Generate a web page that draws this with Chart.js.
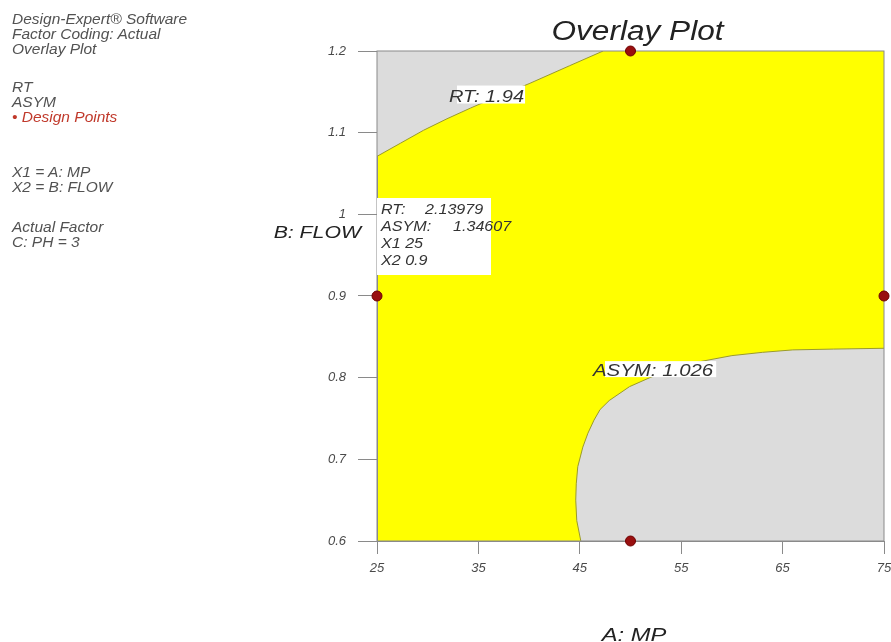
<!DOCTYPE html>
<html>
<head>
<meta charset="utf-8">
<script src="https://cdn.jsdelivr.net/npm/chart.js@4"></script>
<style>
  body { margin: 0; background: #fff; }
  #wrap { position: relative; width: 891px; height: 642px; overflow: hidden; }
  #chart { position: absolute; left: 0; top: 0; }
  .note { position: absolute; left: 12px; font: italic 15.5px "Liberation Sans", Arial, sans-serif;
          color: #525252; white-space: nowrap; line-height: 16px; }
  .red { color: #c0392b; }
</style>
</head>
<body>
<div id="wrap">
  <canvas id="chart" width="891" height="642"></canvas>
  <div class="note" style="top:11px">Design-Expert® Software</div>
  <div class="note" style="top:26px">Factor Coding: Actual</div>
  <div class="note" style="top:41px">Overlay Plot</div>
  <div class="note" style="top:79px">RT</div>
  <div class="note" style="top:94px">ASYM</div>
  <div class="note red" style="top:109px">&#8226; Design Points</div>
  <div class="note" style="top:164px">X1 = A: MP</div>
  <div class="note" style="top:179px">X2 = B: FLOW</div>
  <div class="note" style="top:219px">Actual Factor</div>
  <div class="note" style="top:234px">C: PH = 3</div>
</div>
<script>
// axis ticks
const mpTicks = [25, 35, 45, 55, 65, 75];
const flowTicks = [0.6, 0.7, 0.8, 0.9, 1, 1.1, 1.2];

// design points
const designMP = [50, 25, 75, 50];
const designFlow = [1.2, 0.9, 0.9, 0.6];

// RT = 1.94 contour (upper left)
const rtMP = [25, 27.3, 29.6, 31.9, 34.2, 37, 40, 44, 47.3];
const rtFlow = [1.071, 1.087, 1.103, 1.117, 1.130, 1.145, 1.160, 1.182, 1.2];

// ASYM = 1.026 contour (lower right)
const asymMP = [45.1, 44.7, 44.6, 44.65, 44.8, 45.3, 45.8, 46.4, 47.0, 47.9, 49.9, 51.9, 54, 57, 60, 63, 66, 70, 75];
const asymFlow = [0.6, 0.625, 0.65, 0.67, 0.691, 0.715, 0.732, 0.748, 0.761, 0.772, 0.789, 0.80, 0.81, 0.82, 0.827, 0.831, 0.834, 0.835, 0.836];

// contour labels and flag
const rtLabel = ['RT: 1.94', 32.1, 1.143];
const asymLabel = ['ASYM: 1.026', 46.3, 0.808];
const flagAt = [25, 1.02];
const flagNames = ['RT:', 'ASYM:', 'X1 25', 'X2 0.9'];
const flagValues = ['2.13979', '1.34607', '', ''];

const FONT = '"Liberation Sans", Arial, sans-serif';
const mpMin = mpTicks[0], mpMax = mpTicks[mpTicks.length - 1];
const flowMin = flowTicks[0], flowMax = flowTicks[flowTicks.length - 1];

function pts(xs, ys) {
  return xs.map((x, i) => ({ x: x, y: ys[i] }));
}

function stretchText(ctx, text, x, y, sx, align) {
  ctx.save();
  ctx.translate(x, y);
  ctx.scale(sx, 1);
  ctx.textAlign = align || 'left';
  ctx.fillText(text, 0, 0);
  ctx.restore();
}

const background = {
  id: 'background',
  beforeDraw(chart) {
    const a = chart.chartArea, ctx = chart.ctx;
    ctx.save();
    ctx.fillStyle = '#ffff00';
    ctx.fillRect(a.left, a.top, a.right - a.left, a.bottom - a.top);
    ctx.restore();
  }
};

const overlay = {
  id: 'overlay',
  afterDatasetDraw(chart, args) {
    if (args.index !== 3) return;
    const ctx = chart.ctx, a = chart.chartArea;
    const xs = chart.scales.x, ys = chart.scales.y;
    const mid = (a.left + a.right) / 2;
    ctx.save();

    // frame
    ctx.strokeStyle = '#8a8a8a';
    ctx.lineWidth = 1;
    ctx.strokeRect(a.left, a.top, a.right - a.left, a.bottom - a.top);

    ctx.textBaseline = 'middle';

    // RT label
    ctx.font = 'italic 17px ' + FONT;
    let x = xs.getPixelForValue(rtLabel[1]), y = ys.getPixelForValue(rtLabel[2]);
    let w = ctx.measureText(rtLabel[0]).width * 1.18;
    ctx.fillStyle = '#ffffff';
    ctx.fillRect(x + 8, y - 12, w - 7, 18);
    ctx.fillStyle = '#333';
    stretchText(ctx, rtLabel[0], x, y, 1.18);

    // ASYM label
    x = xs.getPixelForValue(asymLabel[1]); y = ys.getPixelForValue(asymLabel[2]);
    w = ctx.measureText(asymLabel[0]).width * 1.2;
    ctx.fillStyle = '#ffffff';
    ctx.fillRect(x + 12, y - 10, w - 9, 16);
    ctx.fillStyle = '#333';
    stretchText(ctx, asymLabel[0], x, y, 1.2);

    // flag box
    x = xs.getPixelForValue(flagAt[0]); y = ys.getPixelForValue(flagAt[1]);
    ctx.fillStyle = '#ffffff';
    ctx.fillRect(x, y, 114, 77);
    ctx.fillStyle = '#333';
    ctx.font = 'italic 14px ' + FONT;
    const valX = [48, 76, 0, 0];
    flagNames.forEach((n, i) => {
      const ly = y + 12 + i * 17;
      stretchText(ctx, n, x + 4, ly, 1.15);
      if (flagValues[i]) stretchText(ctx, flagValues[i], x + valX[i], ly, 1.15);
    });

    // titles
    ctx.fillStyle = '#222';
    ctx.textBaseline = 'alphabetic';
    ctx.font = 'italic 27px ' + FONT;
    stretchText(ctx, 'Overlay Plot', mid + 7, 40, 1.17, 'center');
    ctx.font = 'italic 17px ' + FONT;
    ctx.textBaseline = 'middle';
    stretchText(ctx, 'B: FLOW', 361, ys.getPixelForValue(0.977), 1.25, 'right');
    ctx.textBaseline = 'alphabetic';
    ctx.font = 'italic 19px ' + FONT;
    stretchText(ctx, 'A: MP', mid + 3.5, 641, 1.25, 'center');
    ctx.restore();
  }
};

const tickFont = { family: FONT, size: 13, style: 'italic' };

new Chart(document.getElementById('chart'), {
  type: 'scatter',
  data: {
    datasets: [
      {
        type: 'line', order: 5,
        data: pts(rtMP, rtFlow).concat([{ x: mpMin, y: flowMax }]),
        fill: 'shape', backgroundColor: '#dcdcdc', borderWidth: 0, pointRadius: 0
      },
      {
        type: 'line', order: 4,
        data: pts(asymMP, asymFlow).concat([{ x: mpMax, y: flowMin }]),
        fill: 'shape', backgroundColor: '#dcdcdc', borderWidth: 0, pointRadius: 0
      },
      {
        type: 'line', order: 3,
        data: pts(rtMP, rtFlow),
        fill: false, borderColor: '#9a9a2c', borderWidth: 1, pointRadius: 0
      },
      {
        type: 'line', order: 2,
        data: pts(asymMP, asymFlow),
        fill: false, borderColor: '#9a9a2c', borderWidth: 1, pointRadius: 0
      },
      {
        type: 'scatter', order: 0, clip: false,
        data: pts(designMP, designFlow),
        pointRadius: 5, backgroundColor: '#990f0f', borderColor: '#6e0000', borderWidth: 1
      }
    ]
  },
  options: {
    responsive: false,
    animation: false,
    layout: { autoPadding: false, padding: { top: 51, right: 7, left: 0, bottom: 0 } },
    plugins: { legend: { display: false }, tooltip: { enabled: false } },
    scales: {
      x: {
        type: 'linear', min: mpMin, max: mpMax,
        afterBuildTicks: s => { s.ticks = mpTicks.map(v => ({ value: v })); },
        afterFit: s => { s.height = 101; s.paddingLeft = 0; s.paddingRight = 0; },
        grid: { drawOnChartArea: false, tickLength: 13, tickColor: '#8a8a8a' },
        border: { color: '#8a8a8a' },
        ticks: { font: tickFont, color: '#4a4a4a', padding: 7, maxRotation: 0, callback: v => String(v) }
      },
      y: {
        type: 'linear', min: flowMin, max: flowMax,
        afterBuildTicks: s => { s.ticks = flowTicks.map(v => ({ value: v })); },
        afterFit: s => { s.width = 377; s.paddingTop = 0; s.paddingBottom = 0; },
        grid: { drawOnChartArea: false, tickLength: 19, tickColor: '#8a8a8a' },
        border: { color: '#8a8a8a' },
        ticks: { font: tickFont, color: '#4a4a4a', padding: 12, callback: v => String(v) }
      }
    }
  },
  plugins: [background, overlay]
});
</script>
</body>
</html>
